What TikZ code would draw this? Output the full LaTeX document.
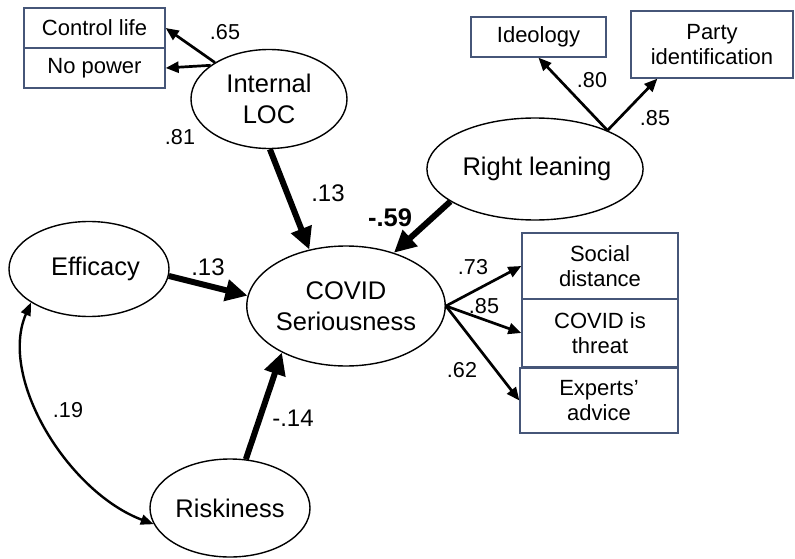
\documentclass[tikz,border=0pt]{standalone}
\usepackage{fontspec}
\setmainfont{Liberation Sans}
\usetikzlibrary{shapes.geometric,arrows.meta}
\definecolor{boxline}{RGB}{70,86,120}
\tikzset{
  latent/.style={ellipse, draw=black, line width=1.4pt, inner sep=0pt,
    align=center, font=\fontsize{25.5}{31}\selectfont},
  indicator/.style={rectangle, draw=boxline, line width=1.3pt, inner sep=0pt,
    align=center, font=\fontsize{22}{25.5}\selectfont},
  coef/.style={font=\fontsize{21.6}{25}\selectfont, inner sep=0pt},
  pathcoef/.style={font=\fontsize{24}{28}\selectfont, inner sep=0pt},
  loading/.style={line width=2.7pt, -{Triangle[length=13pt,width=11pt]}},
  path/.style={line width=6pt, -{Triangle[length=22pt,width=21pt]}},
  covar/.style={line width=2.4pt, {Triangle[length=13pt,width=10pt]}-{Triangle[length=13pt,width=10pt]}}
}
\begin{document}
\begin{tikzpicture}[x=1pt,y=-1pt]
\useasboundingbox (0,0) rectangle (795,559);

% latent constructs
\node[latent, minimum width=156pt, minimum height=99pt] (loc) at (269,99) {Internal\\LOC};
\node[latent, minimum width=174pt, minimum height=102pt] (right) at (535,169) {\hspace*{4pt}Right leaning};
\node[latent, minimum width=195pt, minimum height=120pt] (cov) at (346,306) {COVID\\Seriousness};
\node[latent, minimum width=160pt, minimum height=95pt] (eff) at (89,269) {\hspace*{13pt}Efficacy};
\node[latent, minimum width=160pt, minimum height=98pt] (risk) at (230,508) {Riskiness};

% observed indicators
\node[indicator, minimum width=141pt, minimum height=40pt] (cl) at (94.5,28) {Control life};
\node[indicator, minimum width=141pt, minimum height=40pt] (np) at (94.5,68) {No power};
\node[indicator, minimum width=135pt, minimum height=40pt] (ideo) at (538.5,37) {Ideology};
\node[indicator, minimum width=162pt, minimum height=67pt] (party) at (712,44.5) {Party\\identification};
\node[indicator, minimum width=156pt, minimum height=66pt] (sd) at (600,266) {Social\\distance};
\node[indicator, minimum width=156pt, minimum height=68pt] (thr) at (600,333) {COVID is\\threat};
\node[indicator, minimum width=158pt, minimum height=65pt] (exp) at (599,400.5) {Experts'\\advice};

% measurement loadings
\draw[loading] (loc.146.5) -- (cl.east);
\draw[loading] (loc.150.6) -- (np.east);
\draw[loading] (right.28.3) -- (ideo.south);
\draw[loading] (right.28.3) -- (party.212);
\draw[loading] (cov.east) -- (sd.west);
\draw[loading] (cov.east) -- (thr.west);
\draw[loading] (cov.east) -- (exp.west);

% structural paths
\draw[path] (loc.-89) -- (cov.123);
\draw[path] (right.201.4) -- (cov.48.7);
\draw[path] (eff.-5.8) -- (cov.174);
\draw[path] (risk.72) -- (cov.216);

% covariance
\draw[covar] (eff.210) .. controls (-2,378) and (68,492) .. (risk.192);

% coefficients
\node[coef] (c65) at (225,32) {.65};
\node[coef] (c81) at (180,137) {.81};
\node[coef] (c80) at (592,80) {.80};
\node[coef] (c85a) at (655,118) {.85};
\node[pathcoef] (c13a) at (328,193) {.13};
\node[pathcoef, font=\fontsize{25.5}{30}\selectfont\bfseries] (c59) at (390,218) {-.59};
\node[pathcoef] (c13b) at (208,267) {.13};
\node[pathcoef] (c14) at (293,418) {-.14};
\node[coef] (c73) at (473,267) {.73};
\node[coef] (c85b) at (484,306) {.85};
\node[coef] (c62) at (462,370) {.62};
\node[coef] (c19) at (68,410) {.19};
\end{tikzpicture}
\end{document}
